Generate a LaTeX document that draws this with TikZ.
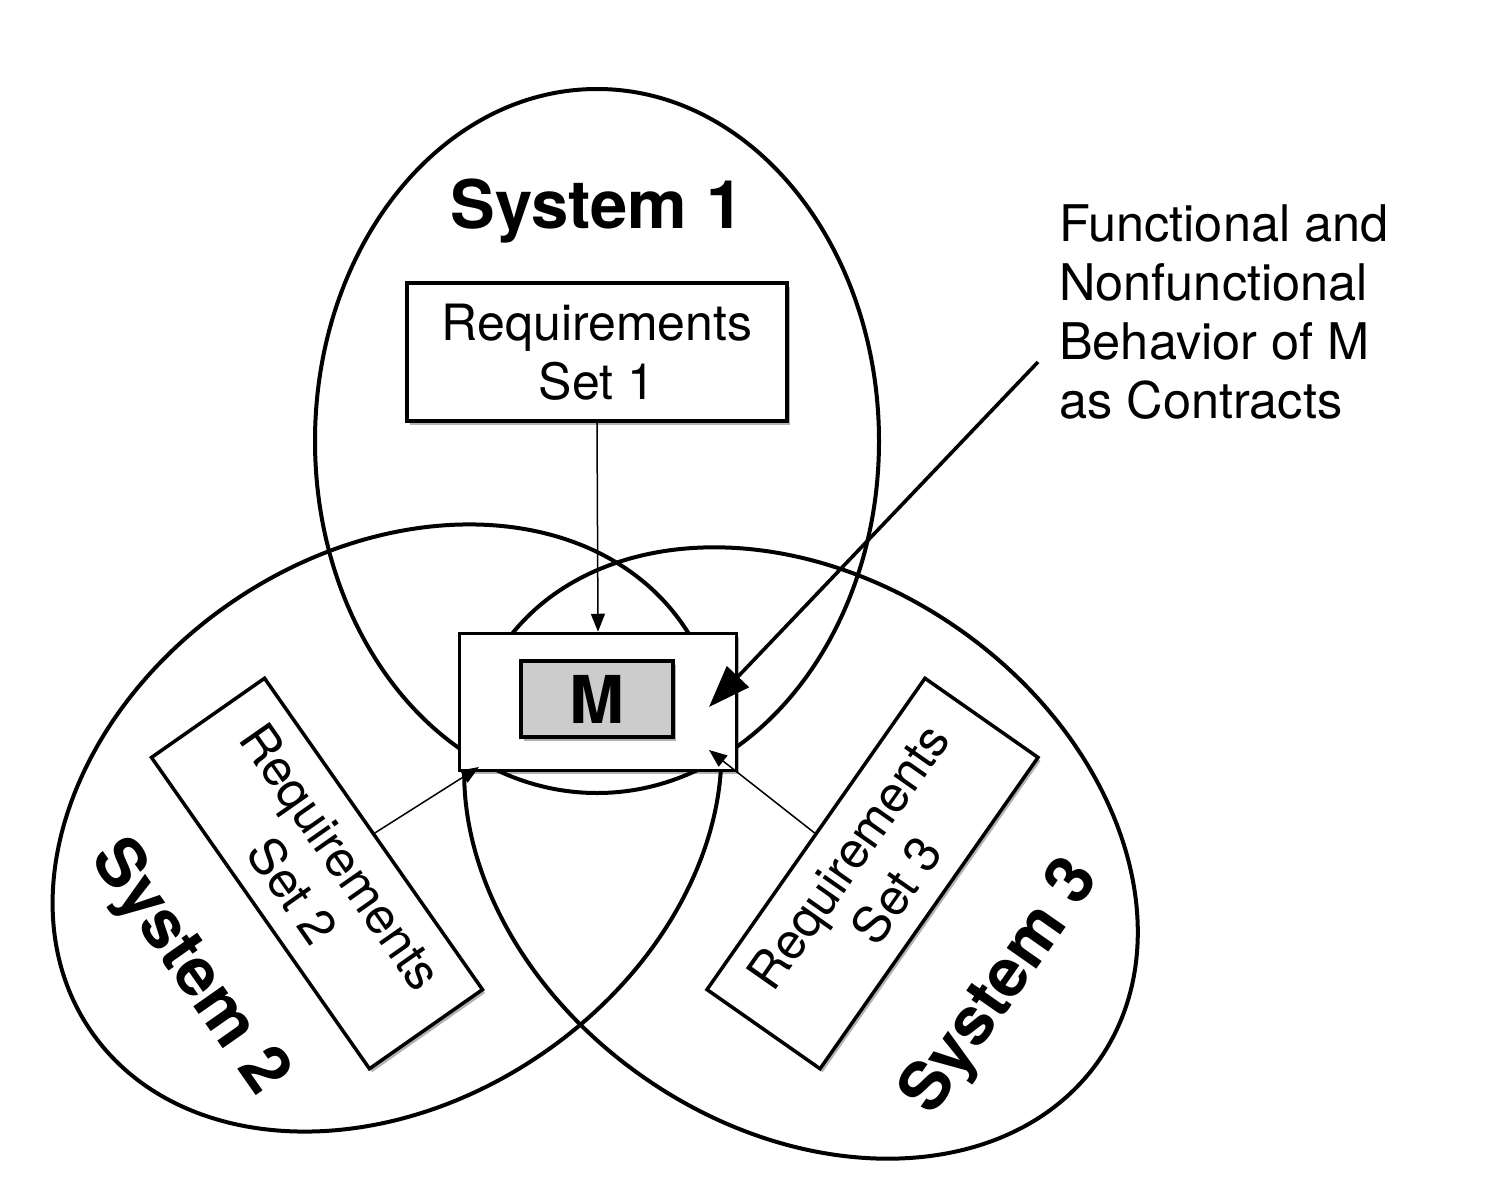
\documentclass[tikz,border=0pt]{standalone}
\usepackage{fontspec}
\setmainfont{TeX Gyre Heros}
\usetikzlibrary{arrows.meta,shadows}
\begin{document}
\begin{tikzpicture}[x=1pt,y=-1pt,
  venn/.style={line width=4pt},
  shad/.style={drop shadow={shadow xshift=2.5pt,shadow yshift=-3.5pt,fill=black,opacity=0.3}},
  reqbox/.style={draw,line width=3.5pt,fill=white,minimum width=380pt,minimum height=138pt,
    inner sep=0pt,align=center,font=\fontsize{50}{59}\selectfont,shad},
  syslabel/.style={font=\bfseries\fontsize{67}{72}\selectfont,inner sep=0pt},
  thinarrow/.style={line width=1.5pt,-{Triangle[length=18pt,width=14pt]}},
  bigarrow/.style={line width=3.6pt,-{Triangle[length=42pt,width=30pt]}},
]
\useasboundingbox (0,0) rectangle (1499,1199);
\fill[white] (0,0) rectangle (1499,1199);

% the three systems
\draw[venn] (597,441) ellipse [x radius=282, y radius=352];
\draw[venn, rotate around={34.3:(387,828)}] (387,828) ellipse [x radius=359, y radius=274];
\draw[venn, rotate around={-34.7:(801,853)}] (801,853) ellipse [x radius=363, y radius=274];

% M
\node[draw,line width=3.5pt,fill=white,minimum width=277pt,minimum height=137pt,shad] (mbox) at (598,702) {};
\node[draw,line width=3.5pt,fill=black!20,minimum width=152pt,minimum height=76pt,inner sep=0pt,
  font=\bfseries\fontsize{66}{66}\selectfont,shad] (m) at (597,699) {M};

% requirement sets
\node[reqbox] (r1) at (597,352) {Requirements\\Set 1};
\node[reqbox, rotate=-55] (r2) at (317,873.5) {Requirements\\Set 2};
\node[reqbox, rotate=55] (r3) at (872.5,873.5) {Requirements\\Set 3};

% labels
\node[syslabel, anchor=base] (s1) at (597,228) {System 1};
\node[syslabel, rotate=-55] (s2) at (188,968) {System 2};
\node[syslabel, rotate=55] (s3) at (1002,988) {System 3};

\node[anchor=north west, inner sep=0pt, align=left, font=\fontsize{50.5}{59.3}\selectfont] (fn)
  at (1059,204) {Functional and\\Nonfunctional\\Behavior of M\\as Contracts};

% connectors
\coordinate (t1) at (709,707);
\coordinate (t2) at (479,767);
\coordinate (t3) at (709,750);
\coordinate (f0) at (1038,362);
\draw[thinarrow] (r1.south) -- (mbox.north);
\draw[thinarrow] (r2.north) -- (t2);
\draw[thinarrow] (r3.north) -- (t3);
\draw[bigarrow] (f0) -- (t1);
\end{tikzpicture}
\end{document}
